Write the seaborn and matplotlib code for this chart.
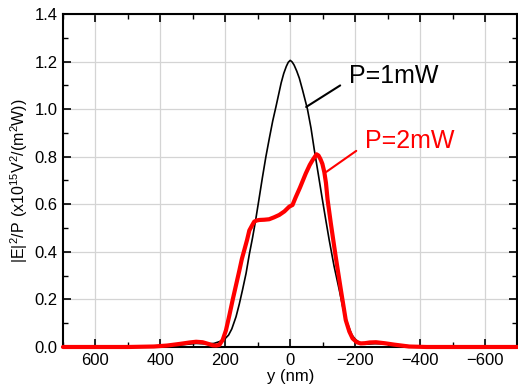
import numpy as np
import pandas as pd
import matplotlib
matplotlib.use('Agg')
import matplotlib.pyplot as plt
from matplotlib.ticker import MultipleLocator
import seaborn as sns

# Position y (nm) and |E|^2/P for P = 1 mW (black)
black_y = [700, 500, 400, 360, 320, 290, 260, 235, 215, 200, 190, 180, 167, 157,
           147, 136, 126, 116, 107, 97, 86, 75, 64, 54, 44, 36, 28, 20, 12, 6, 0,
           -6, -12, -20, -28, -38, -53, -64, -74, -86, -99, -110, -120, -135, -151,
           -163, -176, -190, -202, -215, -235, -260, -290, -330, -400, -500, -700]
black_e = [0.0, 0.0, 0.001, 0.005, 0.011, 0.015, 0.013, 0.015, 0.024, 0.036, 0.05,
           0.076, 0.127, 0.18, 0.24, 0.31, 0.39, 0.46, 0.53, 0.615, 0.71, 0.80,
           0.88, 0.95, 1.01, 1.06, 1.11, 1.15, 1.18, 1.197, 1.205, 1.198, 1.185,
           1.16, 1.13, 1.08, 1.0, 0.92, 0.83, 0.73, 0.62, 0.53, 0.45, 0.34, 0.24,
           0.16, 0.10, 0.05, 0.03, 0.018, 0.012, 0.014, 0.013, 0.008, 0.002, 0.0, 0.0]

# Position y (nm) and |E|^2/P for P = 2 mW (red)
red_y = [700, 500, 420, 380, 340, 310, 290, 270, 250, 239, 228, 218, 208, 198,
         188, 177, 167, 157, 149, 141, 133, 126, 118, 111, 103, 95, 80, 65, 50,
         34, 18, 3, -7, -17, -30, -48, -60, -69, -76, -81, -87, -93, -99, -105,
         -110, -115, -125, -140, -156, -171, -182, -192, -205, -217, -230, -245,
         -264, -290, -320, -366, -420, -500, -700]
red_e = [0.0, 0.0, 0.002, 0.006, 0.013, 0.019, 0.022, 0.02, 0.012, 0.007, 0.006,
         0.009, 0.03, 0.07, 0.13, 0.20, 0.26, 0.32, 0.37, 0.41, 0.45, 0.49, 0.51,
         0.527, 0.532, 0.534, 0.535, 0.537, 0.545, 0.555, 0.57, 0.59, 0.597,
         0.63, 0.67, 0.73, 0.765, 0.786, 0.80, 0.81, 0.805, 0.79, 0.77, 0.735,
         0.69, 0.62, 0.52, 0.38, 0.24, 0.113, 0.065, 0.036, 0.02, 0.015, 0.016,
         0.019, 0.02, 0.016, 0.01, 0.002, 0.0, 0.0, 0.0]

assert len(black_y) == len(black_e) and len(red_y) == len(red_e)

df_black = pd.DataFrame({'y': black_y, 'E': black_e})
df_red = pd.DataFrame({'y': red_y, 'E': red_e})

sns.set_style('ticks')
plt.rcParams['font.family'] = ['Liberation Sans', 'DejaVu Sans']
plt.rcParams['mathtext.fontset'] = 'custom'
plt.rcParams['mathtext.rm'] = 'Liberation Sans'

fig = plt.figure(figsize=(5.18, 3.88), dpi=100)
ax = fig.add_axes([0.1216, 0.1057, 0.8774, 0.8583])

sns.lineplot(data=df_black, x='y', y='E', ax=ax, color='black', linewidth=1.2,
             sort=False, estimator=None, zorder=3)
sns.lineplot(data=df_red, x='y', y='E', ax=ax, color='#ff0000', linewidth=3,
             sort=False, estimator=None, zorder=4, clip_on=False)

ax.set_xlim(700, -700)
ax.set_ylim(0, 1.4)
ax.xaxis.set_major_locator(MultipleLocator(200))
ax.xaxis.set_minor_locator(MultipleLocator(100))
ax.yaxis.set_major_locator(MultipleLocator(0.2))
ax.yaxis.set_minor_locator(MultipleLocator(0.1))
ax.yaxis.set_major_formatter(matplotlib.ticker.FormatStrFormatter('%.1f'))
ax.xaxis.set_major_formatter(matplotlib.ticker.FuncFormatter(
    lambda v, p: f'{int(v)}'.replace('-', '\u2212')))

ax.grid(True, which='major', color='#d4d4d4', linewidth=0.9)
ax.set_axisbelow(True)
ax.tick_params(which='both', direction='in', top=True, right=True,
               labelsize=12, colors='black', pad=4)
ax.tick_params(which='major', length=6, width=1.2)
ax.tick_params(which='minor', length=3.5, width=1.0)
for s in ax.spines.values():
    s.set_linewidth(1.5)
    s.set_color('black')

ax.set_xlabel('y (nm)', fontsize=12, labelpad=1, color='black')
ax.set_ylabel(r'$\mathregular{|E|^2/P\ (x10^{15}V^2/(m^2W))}$', fontsize=11.5,
              labelpad=3, color='black')

ax.annotate('P=1mW', xy=(-49, 1.009), xytext=(-182, 1.139), fontsize=18,
            color='black', ha='left', va='center',
            arrowprops=dict(arrowstyle='-', color='black', lw=1.5,
                            relpos=(0, 0.35), shrinkA=5, shrinkB=0))
ax.annotate('P=2mW', xy=(-111, 0.736), xytext=(-231, 0.866), fontsize=18,
            color='#ff0000', ha='left', va='center',
            arrowprops=dict(arrowstyle='-', color='#ff0000', lw=1.5,
                            relpos=(0, 0.35), shrinkA=5, shrinkB=0))

plt.savefig('out.png', dpi=100)
